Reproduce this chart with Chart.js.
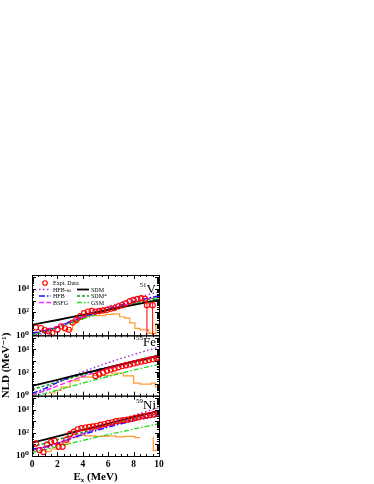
<!DOCTYPE html>
<html>
<head>
<meta charset="utf-8">
<script src="https://cdn.jsdelivr.net/npm/chart.js@4/dist/chart.umd.min.js"></script>
<style>
  html, body { margin: 0; background: #fff; }
  canvas { display: block; }
</style>
</head>
<body>
<canvas id="nld" width="374" height="484"></canvas>
<script>
// --- data ---------------------------------------------------------------
// model curves are all sampled on the same energy grid (MeV)
const modelE = [0, 1, 2, 3, 4, 5, 6, 7, 8, 9, 10];

// 51V
const v51_sdm   = [8, 13, 21, 35, 58, 95, 155, 257, 420, 690, 1120];
const v51_hfbw  = [1, 1.5, 4, 14, 45, 120, 300, 700, 1500, 3000, 5500];
const v51_hfb   = [1.5, 2.5, 5, 15, 40, 90, 200, 400, 800, 1500, 2600];
const v51_bsfg  = [1.5, 3, 6, 15, 35, 80, 170, 350, 700, 1300, 2300];
const v51_sdmS  = [1.2, 2.5, 5, 12, 30, 70, 150, 300, 600, 1100, 1900];
const v51_gsm   = [1, 2, 4.5, 11, 26, 60, 130, 260, 500, 900, 1500];
const v51_expE  = [0.3, 0.7, 1.0, 1.3, 1.6, 2.0, 2.3, 2.6, 2.9, 3.2, 3.5, 3.8, 4.1, 4.4, 4.7, 5.0, 5.3, 5.6, 5.9, 6.2, 6.5, 6.8, 7.1, 7.4, 7.7, 8.0, 8.3, 8.6, 8.9, 9.05, 9.5];
const v51_exp   = [4.8, 4.2, 2.8, 2.2, 1.6, 3.2, 5.9, 4, 3, 12.6, 22, 45, 80, 110, 126, 112, 126, 140, 158, 200, 224, 316, 400, 560, 890, 1120, 1400, 1580, 1400, 400, 400];
const v51_errE  = [9.05, 9.05, null, 9.5, 9.5];
const v51_err   = [1, 900, null, 1, 900];
const v51_oslE  = [2.4, 2.8, 3.2, 3.6, 4.0, 4.4, 4.8, 5.3, 5.8, 6.4, 6.9, 7.3, 7.7, 8.1, 8.5, 8.9, 9.2, 9.6, 9.75, 10.0];
const v51_osl   = [3, 3, 12, 25, 40, 50, 50, 50, 65, 70, 40, 30, 12, 4, 3, 3, 1.5, 1.5, 10, 10];

// 55Fe
const fe55_sdm  = [7, 12.8, 23.5, 43, 80, 145, 265, 490, 900, 1650, 3000];
const fe55_hfbw = [1, 3, 14, 42, 115, 290, 700, 1600, 3500, 7500, 15000];
const fe55_hfb  = [1.5, 4, 14, 40, 85, 160, 290, 520, 900, 1550, 2700];
const fe55_bsfg = [1.2, 2.5, 7, 18, 45, 100, 210, 420, 800, 1400, 2400];
const fe55_sdmS = [3.5, 7, 15, 32, 62, 115, 215, 400, 730, 1300, 2300];
const fe55_gsm  = [1, 1.5, 3, 6, 12, 24, 45, 85, 160, 290, 500];
const fe55_expE = [5.0, 5.3, 5.6, 5.9, 6.2, 6.5, 6.8, 7.1, 7.4, 7.7, 8.0, 8.3, 8.6, 8.9, 9.2, 9.5, 9.8, 10.0];
const fe55_exp  = [50, 70, 100, 140, 180, 225, 280, 355, 420, 500, 600, 720, 850, 1000, 1200, 1400, 1660, 1800];
const fe55_oslE = [1.3, 1.8, 2.3, 3.0, 3.7, 4.8, 5.3, 6.3, 7.2, 8.0, 8.5, 9.0, 9.4, 9.7, 10.0];
const fe55_osl  = [1.7, 2.8, 5.5, 20, 40, 55, 55, 90, 50, 12, 10, 10, 12, 5.6, 5.6];

// 59Ni
const ni59_sdm  = [14, 26, 49, 93, 175, 330, 630, 1180, 2240, 4200, 7900];
const ni59_hfbw = [2.5, 4, 10, 30, 85, 230, 600, 1400, 3200, 7000, 15000];
const ni59_hfb  = [4, 6, 12, 30, 70, 150, 310, 600, 1100, 1900, 3000];
const ni59_bsfg = [3, 6, 13, 35, 85, 190, 400, 800, 1500, 2800, 5000];
const ni59_sdmS = [6, 12, 25, 55, 110, 220, 420, 800, 1500, 2700, 4800];
const ni59_gsm  = [2, 3.5, 6.5, 12, 22, 40, 70, 120, 210, 360, 600];
const ni59_expE = [0.3, 0.6, 0.9, 1.2, 1.5, 1.8, 2.1, 2.4, 2.7, 3.0, 3.3, 3.6, 3.9, 4.2, 4.5, 4.8, 5.1, 5.4, 5.7, 6.0, 6.3, 6.6, 6.9, 7.2, 7.5, 7.8, 8.1, 8.4, 8.7, 9.0, 9.3, 9.6, 9.9];
const ni59_exp  = [12, 3.2, 2.2, 10, 16, 20, 6.3, 6.3, 25, 80, 125, 200, 250, 280, 320, 355, 400, 500, 560, 710, 800, 1000, 1120, 1260, 1400, 1580, 1900, 2240, 2630, 3000, 3400, 3800, 4500];
const ni59_oslE = [1.0, 1.5, 2.0, 2.5, 2.9, 3.6, 4.2, 5.0, 6.0, 6.6, 7.3, 8.1, 8.5, null, 9.5, 9.55, 10.0];
const ni59_osl  = [2.5, 4, 14, 10, 40, 60, 55, 50, 55, 45, 50, 38, 38, null, 40, 3, 3];

// axes
const xTicks      = [0, 2, 4, 6, 8, 10];
const yTickValues = [1, 100, 10000];
const yTickLabels = ['10⁰', '10²', '10⁴'];
const yMin = 1, yMax = 160000;
const nuclideMass = ['51', '55', '59'];
const nuclideSym  = ['V', 'Fe', 'Ni'];
const panelIds    = ['y1', 'y2', 'y3'];   // top to bottom

// --- styles ---------------------------------------------------------------
const serif = "'Liberation Serif', 'DejaVu Serif', serif";
const st = {
    exp:  { color: '#ff0000' },
    sdm:  { color: '#000000', width: 1.8, dash: [] },
    hfbw: { color: '#a030d8', width: 1.4, dash: [1.5, 2.5] },
    hfb:  { color: '#1010ff', width: 1.4, dash: [6, 2, 1.5, 2] },
    bsfg: { color: '#ff20ff', width: 1.4, dash: [5, 2.5] },
    sdmS: { color: '#109a10', width: 1.4, dash: [3, 2] },
    gsm:  { color: '#20dd20', width: 1.4, dash: [5, 2, 1.5, 2] },
    osl:  { color: '#ff9a30', width: 1.2, dash: [] },
};

const pts = (xs, ys) => xs.map((x, i) => ({ x: x, y: ys[i] }));

function curve(ys, s, axis) {
    return {
        data: pts(modelE, ys), yAxisID: axis,
        borderColor: s.color, borderWidth: s.width, borderDash: s.dash,
        pointRadius: 0, fill: false, tension: 0,
    };
}

function panel(axis, p) {
    const sets = [
        {
            data: pts(p.expE, p.exp), yAxisID: axis, showLine: false,
            pointRadius: 2.6, pointBorderWidth: 1.1,
            borderColor: st.exp.color, backgroundColor: 'rgba(0,0,0,0)',
        },
        curve(p.sdm, st.sdm, axis),
        curve(p.hfbw, st.hfbw, axis),
        curve(p.hfb, st.hfb, axis),
        curve(p.bsfg, st.bsfg, axis),
        curve(p.sdmS, st.sdmS, axis),
        curve(p.gsm, st.gsm, axis),
        {
            data: pts(p.oslE, p.osl), yAxisID: axis, stepped: true,
            borderColor: st.osl.color, borderWidth: st.osl.width,
            pointRadius: 0, spanGaps: false,
        },
    ];
    if (p.errE) {
        sets.splice(1, 0, {
            data: pts(p.errE, p.err), yAxisID: axis,
            borderColor: st.exp.color, borderWidth: 1, pointRadius: 0, spanGaps: false,
        });
    }
    return sets;
}

const datasets = [
    ...panel('y1', { sdm: v51_sdm, hfbw: v51_hfbw, hfb: v51_hfb, bsfg: v51_bsfg, sdmS: v51_sdmS, gsm: v51_gsm,
                     expE: v51_expE, exp: v51_exp, oslE: v51_oslE, osl: v51_osl, errE: v51_errE, err: v51_err }),
    ...panel('y2', { sdm: fe55_sdm, hfbw: fe55_hfbw, hfb: fe55_hfb, bsfg: fe55_bsfg, sdmS: fe55_sdmS, gsm: fe55_gsm,
                     expE: fe55_expE, exp: fe55_exp, oslE: fe55_oslE, osl: fe55_osl }),
    ...panel('y3', { sdm: ni59_sdm, hfbw: ni59_hfbw, hfb: ni59_hfb, bsfg: ni59_bsfg, sdmS: ni59_sdmS, gsm: ni59_gsm,
                     expE: ni59_expE, exp: ni59_exp, oslE: ni59_oslE, osl: ni59_osl }),
];

// legend rows, two columns (drawn in the top panel)
const legendItems = [
    { label: 'Expt. Data', s: 'exp',  col: 0, row: 0 },
    { label: 'HFB-ω',     s: 'hfbw', col: 0, row: 1 },
    { label: 'HFB',        s: 'hfb',  col: 0, row: 2 },
    { label: 'BSFG',       s: 'bsfg', col: 0, row: 3 },
    { label: 'SDM',        s: 'sdm',  col: 1, row: 1 },
    { label: 'SDM*',       s: 'sdmS', col: 1, row: 2 },
    { label: 'GSM',        s: 'gsm',  col: 1, row: 3 },
];

function yAxis(withTitle) {
    return {
        type: 'logarithmic', position: 'left', stack: 'nld', stackWeight: 1,
        min: yMin, max: yMax,
        grid: { display: false, drawTicks: false },
        border: { display: false },
        afterBuildTicks: s => { s.ticks = yTickValues.map(v => ({ value: v })); },
        afterFit: s => { s.width = 32; },
        ticks: {
            autoSkip: false, padding: 3, color: '#000',
            font: { family: serif, size: 9, weight: 'bold' },
            callback: v => yTickLabels[yTickValues.indexOf(v)] ?? '',
        },
        title: {
            display: withTitle, text: 'NLD (MeV⁻¹)', color: '#000', padding: 0,
            font: { family: serif, size: 11, weight: 'bold' },
        },
    };
}

const decor = {
    id: 'decor',
    afterDatasetsDraw(chart) {
        const ctx = chart.ctx, a = chart.chartArea, xs = chart.scales.x;
        const seg = (x1, y1, x2, y2) => { ctx.beginPath(); ctx.moveTo(x1, y1); ctx.lineTo(x2, y2); ctx.stroke(); };
        ctx.save();
        ctx.strokeStyle = '#000';
        ctx.lineWidth = 1;
        panelIds.forEach((id, k) => {
            const s = chart.scales[id];
            ctx.strokeStyle = '#000';
            ctx.lineWidth = 1;
            ctx.strokeRect(a.left + 0.5, s.top + 0.5, a.right - a.left, s.bottom - s.top);
            // inward y ticks, both sides
            for (let d = 0; d <= 5; d++) {
                for (let m = 1; m <= 9; m++) {
                    const v = m * Math.pow(10, d);
                    if (v < s.min || v > s.max) continue;
                    const y = Math.round(s.getPixelForValue(v)) + 0.5;
                    const len = m === 1 ? 4 : 2;
                    seg(a.left, y, a.left + len, y);
                    seg(a.right, y, a.right - len, y);
                }
            }
            // inward x ticks, top and bottom of each panel
            for (let e = 0; e <= 10; e += 0.5) {
                const x = Math.round(xs.getPixelForValue(e)) + 0.5;
                const len = e % 2 === 0 ? 4 : 2;
                seg(x, s.top, x, s.top + len);
                seg(x, s.bottom, x, s.bottom - len);
            }
            // nuclide label
            const base = [s.top + 18, s.top + 11, s.top + 13][k];
            ctx.fillStyle = '#000';
            ctx.textAlign = 'right';
            ctx.textBaseline = 'alphabetic';
            ctx.font = `13px ${serif}`;
            const symW = ctx.measureText(nuclideSym[k]).width;
            ctx.fillText(nuclideSym[k], a.right - 3, base);
            ctx.font = `7px ${serif}`;
            ctx.fillText(nuclideMass[k], a.right - 3 - symW, base - 6);
        });

        // legend
        const top = chart.scales.y1.top;
        ctx.font = `6px ${serif}`;
        ctx.textAlign = 'left';
        ctx.textBaseline = 'middle';
        legendItems.forEach(it => {
            const y = top + 8 + it.row * 6.5;
            const x0 = a.left + (it.col === 0 ? 7 : 45);
            const s = st[it.s];
            if (it.s === 'exp') {
                ctx.strokeStyle = s.color; ctx.lineWidth = 1.1; ctx.setLineDash([]);
                ctx.beginPath(); ctx.arc(a.left + 13, y, 2.3, 0, Math.PI * 2); ctx.stroke();
            } else {
                ctx.strokeStyle = s.color; ctx.lineWidth = s.width; ctx.setLineDash(s.dash);
                seg(x0, y, x0 + 12, y);
            }
            ctx.setLineDash([]);
            ctx.fillStyle = '#000';
            ctx.fillText(it.label, x0 + 14, y + 0.5);
        });

        // x title with subscript
        const xb = a.bottom + 24;
        ctx.textBaseline = 'alphabetic';
        ctx.font = `bold 11px ${serif}`;
        const wE = ctx.measureText('E').width;
        ctx.font = `bold 7px ${serif}`;
        const wx = ctx.measureText('x').width;
        ctx.font = `bold 11px ${serif}`;
        const wR = ctx.measureText(' (MeV)').width;
        let x = (a.left + a.right) / 2 - (wE + wx + wR) / 2;
        ctx.fillText('E', x, xb);
        ctx.font = `bold 7px ${serif}`;
        ctx.fillText('x', x + wE, xb + 2);
        ctx.font = `bold 11px ${serif}`;
        ctx.fillText(' (MeV)', x + wE + wx, xb);
        ctx.restore();
    },
};

new Chart(document.getElementById('nld'), {
    type: 'line',
    data: { datasets: datasets },
    options: {
        responsive: false,
        animation: false,
        events: [],
        layout: { padding: { left: 0, top: 275, right: 215, bottom: 0 } },
        plugins: { legend: { display: false }, tooltip: { enabled: false } },
        scales: {
            x: {
                type: 'linear', min: 0, max: 10, position: 'bottom',
                grid: { display: false, drawTicks: false },
                border: { display: false },
                afterBuildTicks: s => { s.ticks = xTicks.map(v => ({ value: v })); },
                afterFit: s => { s.height = 28; },
                ticks: { padding: 3, color: '#000', font: { family: serif, size: 9.5, weight: 'bold' } },
            },
            // stacked axes are laid out bottom-up in definition order
            y3: yAxis(false),
            y2: yAxis(true),
            y1: yAxis(false),
        },
    },
    plugins: [decor],
});
</script>
</body>
</html>
